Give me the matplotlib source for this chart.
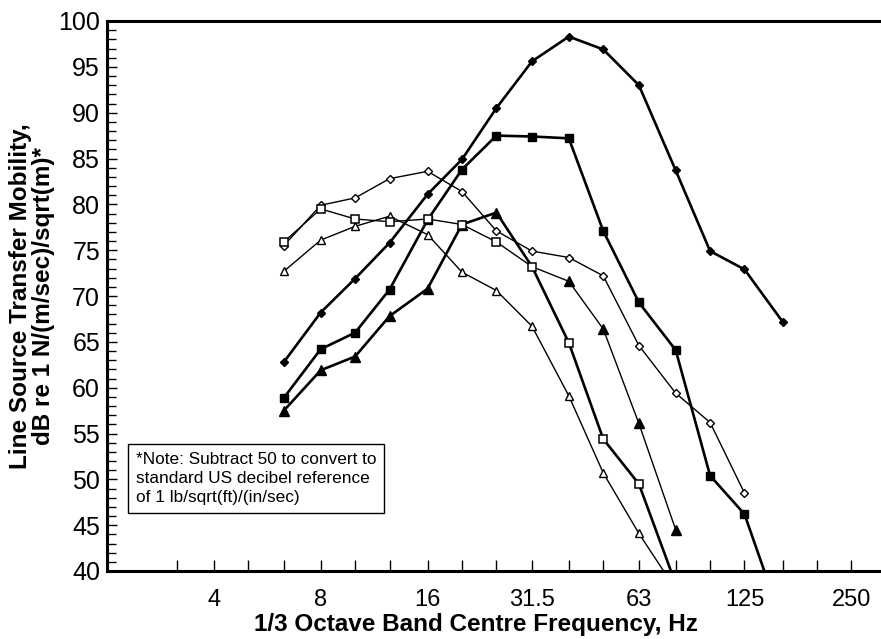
import numpy as np
import matplotlib
matplotlib.use("Agg")
import matplotlib.pyplot as plt
from matplotlib.ticker import FixedLocator, NullFormatter

plt.rcParams['font.family'] = ['Liberation Sans', 'DejaVu Sans']

# 1/3 octave band centre frequencies, Hz
bands = [6.3, 8, 10, 12.5, 16, 20, 25, 31.5, 40, 50, 63, 80, 100, 125, 160]

# curves (dB re 1 N/(m/sec)/sqrt(m))
filled_diamond = [62.8, 68.2, 71.9, 75.8, 81.1, 84.9, 90.5, 95.6, 98.3, 96.9, 93.0, 83.7, 74.9, 72.9, 67.2]
filled_square = [58.9, 64.2, 66.0, 70.7, 78.3, 83.8, 87.5, 87.4, 87.2, 77.1, 69.3, 64.1, 50.4, 46.2, 34.3]
open_diamond = [75.5, 79.9, 80.7, 82.8, 83.6, 81.4, 77.1, 74.9, 74.2, 72.2, 64.6, 59.4, 56.2, 48.5]
open_triangle = [72.7, 76.1, 77.6, 78.7, 76.7, 72.6, 70.6, 66.7, 59.1, 50.7, 44.1, 38.0]
# these two cross at 31.5 Hz and swap markers there in the original figure
thick_tri = [57.5, 61.9, 63.4, 67.8, 70.8, 77.8, 79.1, 73.2, 64.9, 54.4, 49.5, 38.6]
thin_sq = [75.9, 79.5, 78.4, 78.1, 78.4, 77.8, 75.9, 73.2, 71.6, 66.4, 56.1, 44.5]
swap = 7

major_labels = ['4', '8', '16', '31.5', '63', '125', '250']
major_ticks = [4, 8, 16, 31.5, 63, 125, 250]
minor_ticks = [3.15, 5, 6.3, 10, 12.5, 20, 25, 40, 50, 80, 100, 160, 200]

note = ("*Note: Subtract 50 to convert to\n"
        "standard US decibel reference\n"
        "of 1 lb/sqrt(ft)/(in/sec)")

fig = plt.figure(figsize=(8.81, 6.39), dpi=100)
ax = fig.add_axes([107 / 881, 1 - 571 / 639, 1 - 107 / 881, 550 / 639])

thick = 1.9
thin = 1.0
k = 'black'

def f(n):
    return bands[:n]

ax.plot(f(len(filled_diamond)), filled_diamond, '-', color=k, lw=thick,
        marker='D', ms=4, mfc=k, mec=k, zorder=3)
ax.plot(f(len(filled_square)), filled_square, '-', color=k, lw=thick,
        marker='s', ms=6, mfc=k, mec=k, zorder=3)
ax.plot(f(len(open_diamond)), open_diamond, '-', color=k, lw=thin,
        marker='D', ms=4.2, mfc='white', mec=k, mew=1.0, zorder=4)
ax.plot(f(len(open_triangle)), open_triangle, '-', color=k, lw=thin,
        marker='^', ms=6, mfc='white', mec=k, mew=1.0, zorder=4)

x_tri = f(len(thick_tri))
x_sq = f(len(thin_sq))
ax.plot(x_tri, thick_tri, '-', color=k, lw=thick, zorder=3)
ax.plot(x_sq, thin_sq, '-', color=k, lw=thin, zorder=3)
# filled triangles
ax.plot(x_tri[:swap], thick_tri[:swap], ls='none', marker='^', ms=6.5,
        mfc=k, mec=k, zorder=4)
ax.plot(x_sq[swap + 1:], thin_sq[swap + 1:], ls='none', marker='^', ms=6.5,
        mfc=k, mec=k, zorder=4)
# open squares
ax.plot(x_sq[:swap + 1], thin_sq[:swap + 1], ls='none', marker='s', ms=6,
        mfc='white', mec=k, mew=1.1, zorder=5)
ax.plot(x_tri[swap + 1:], thick_tri[swap + 1:], ls='none', marker='s', ms=6,
        mfc='white', mec=k, mew=1.1, zorder=5)

ax.set_xscale('log')
ax.set_xlim(2, 303)
ax.set_ylim(40, 100)

ax.xaxis.set_major_locator(FixedLocator(major_ticks))
ax.xaxis.set_minor_locator(FixedLocator(minor_ticks))
ax.set_xticklabels(major_labels)
ax.xaxis.set_minor_formatter(NullFormatter())
ax.set_yticks(np.arange(40, 101, 5))
ax.set_yticks(np.arange(40, 101, 1), minor=True)

ax.tick_params(axis='x', which='both', direction='in', length=8, width=1.0,
               labelsize=17, pad=13, top=False)
ax.tick_params(axis='y', which='major', direction='in', length=7, width=1.0,
               labelsize=18, pad=5, right=False)
ax.tick_params(axis='y', which='minor', direction='in', length=6.5, width=1.0,
               right=False)

for s in ['left', 'bottom', 'top']:
    ax.spines[s].set_linewidth(2.2)
ax.spines['right'].set_visible(False)

ax.set_xlabel('1/3 Octave Band Centre Frequency, Hz', fontsize=17.5,
              fontweight='bold')
ax.xaxis.set_label_coords((476 - 107) / 774, (571 - 613) / 550)
fig.text(32 / 881, 1 - 296 / 639,
         'Line Source Transfer Mobility,\ndB re 1 N/(m/sec)/sqrt(m)*',
         rotation=90, ha='center', va='center', multialignment='center',
         fontsize=17.5, fontweight='bold', linespacing=1.0)

ax.text((136 - 107) / 774, (571 - 452) / 550, note,
        transform=ax.transAxes, ha='left', va='top', fontsize=12.4,
        linespacing=1.35, zorder=6,
        bbox=dict(boxstyle='square,pad=0.45', fc='white', ec=k, lw=1.0))

fig.savefig('out.png', dpi=100)
